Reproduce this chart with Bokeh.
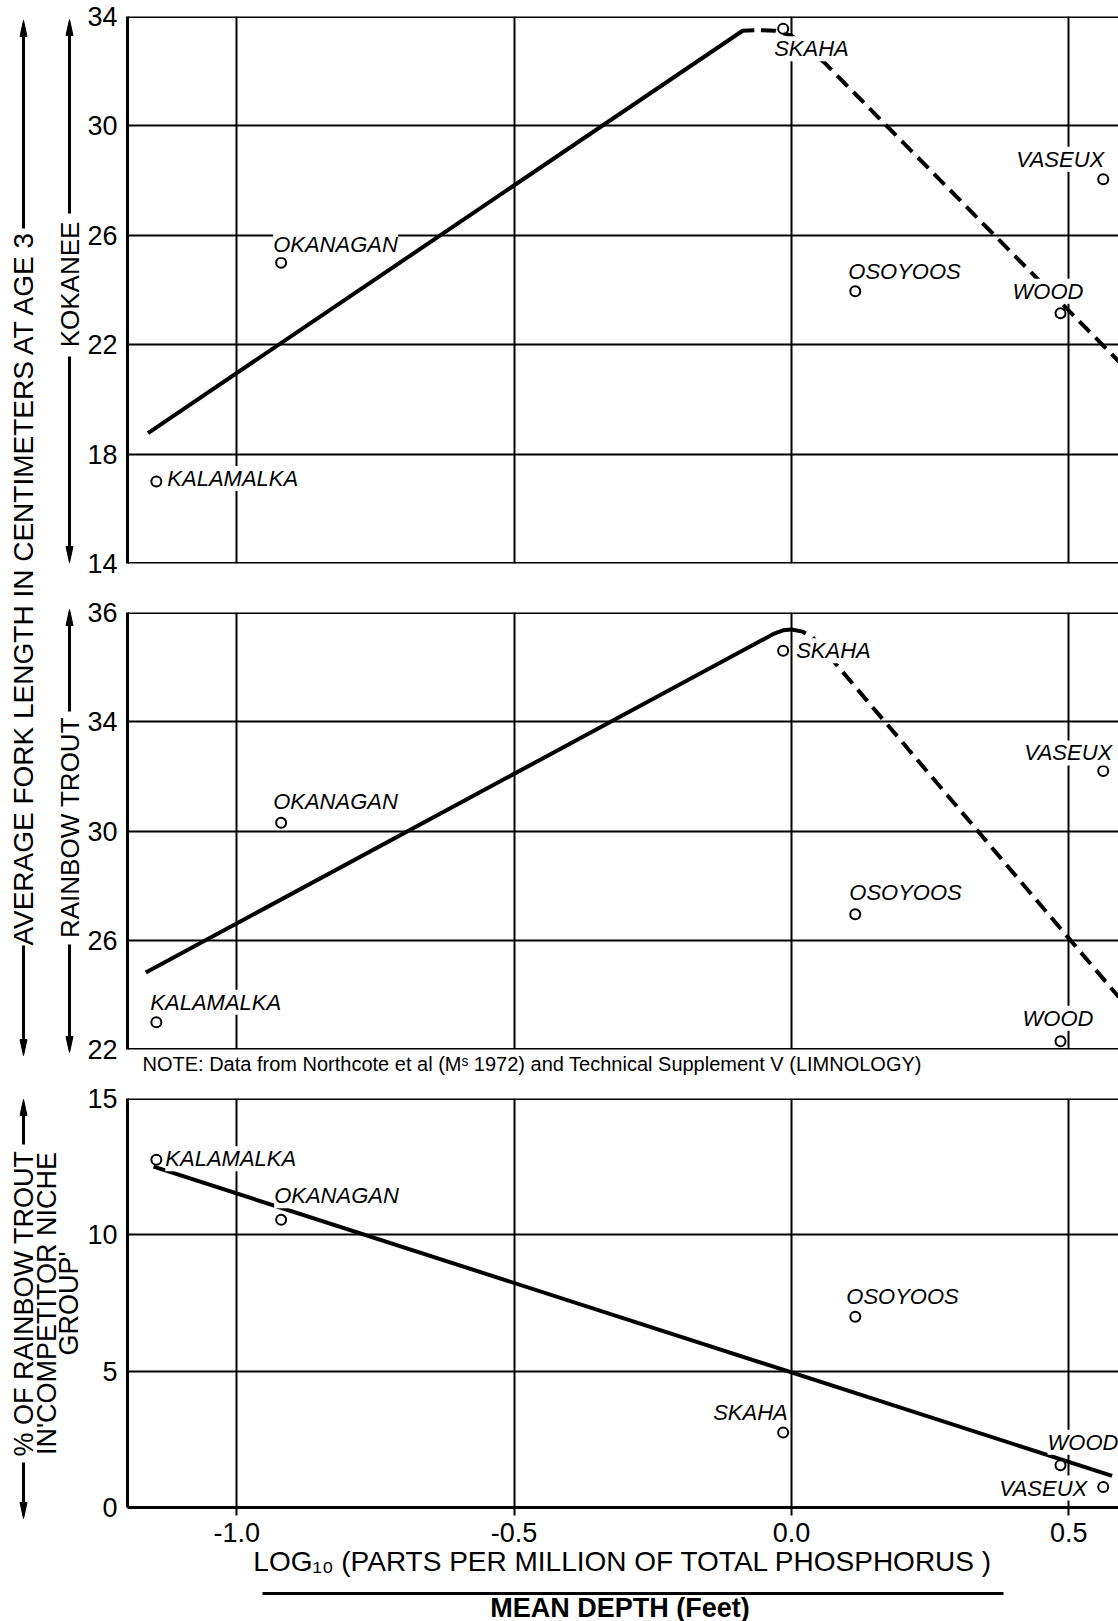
import math
from bokeh.plotting import figure
from bokeh.models import Range1d, FixedTicker, Span, Label, Grid, Title
from bokeh.layouts import row, column
from bokeh.embed import file_html
from bokeh.resources import INLINE
from bokeh.core.properties import value

# ---------------- data ----------------
lakes = ["KALAMALKA", "OKANAGAN", "SKAHA", "OSOYOOS", "WOOD", "VASEUX"]
log10_total_p = [-1.145, -0.92, -0.015, 0.115, 0.485, 0.562]
kokanee_length_cm = [17.0, 25.0, 33.55, 23.95, 23.15, 28.05]
rainbow_length_cm = [23.0, 30.3, 36.6, 26.95, 22.3, 32.2]
rainbow_pct_competitor = [12.75, 10.55, 2.75, 7.0, 1.55, 0.75]

kokanee_trend_x = [-1.16, -0.088, -0.067]
kokanee_trend_y = [18.77, 33.48, 33.50]
kokanee_extrap_x = [-0.055, -0.03, 0.0, 0.059, 0.592]
kokanee_extrap_y = [33.50, 33.48, 33.30, 32.32, 21.35]

rainbow_trend_x = [-1.164, -0.031, -0.015, 0.0]
rainbow_trend_y = [24.82, 37.23, 37.35, 37.38]
rainbow_extrap_x = [0.0, 0.02, 0.038, 0.082, 0.59]
rainbow_extrap_y = [37.38, 37.30, 37.10, 36.07, 23.92]

competitor_fit_x = [-1.15, 0.578]
competitor_fit_y = [12.5, 1.16]

x_ticks = [-1.0, -0.5, 0.0, 0.5]
x_tick_labels = ["-1.0", "-0.5", "0.0", "0.5"]
kokanee_ticks = [14, 18, 22, 26, 30, 34]
kokanee_tick_labels = ["14", "18", "22", "26", "30", "34"]
rainbow_ticks = [22, 26, 30, 34, 38]
rainbow_tick_labels = ["22", "26", "30", "34", "36"]
competitor_ticks = [0, 5, 10, 15]
competitor_tick_labels = ["0", "5", "10", "15"]

note_text = "NOTE: Data from Northcote et al (M\u02e2 1972) and Technical Supplement V (LIMNOLOGY)"

# ---------------- style / layout ----------------
FONT = "Liberation Sans"
TOTAL_H = 1621
W_DECO = 83
W_MAIN = 1035
BORDER_LEFT = 44
FRAME_LEFT = W_DECO + BORDER_LEFT
FRAME_RIGHT = W_DECO + W_MAIN
PX_PER_X = 554.7
X0 = -1.197
X1 = X0 + (W_MAIN - BORDER_LEFT) / PX_PER_X

kokanee_label_offsets = [(11, 3), (-8, 18), (-9, -20), (-7, 20), (-48, 22), (-87, 20)]
rainbow_label_offsets = [(-6, 20), (-8, 21), (13, 0), (-6, 22), (-38, 23), (-79, 18)]
competitor_label_offsets = [(9, 1), (-7, 24), (-70, 20), (-9, 20), (-13, 23), (-104, -1)]


def panel(height, b_top, b_bottom, y_start, y_end, yticks, ylabels, with_xaxis=False):
    p = figure(width=W_MAIN, height=height,
               x_range=Range1d(X0, X1), y_range=Range1d(y_start, y_end),
               output_backend="svg", toolbar_location=None, title=None,
               x_axis_location="below" if with_xaxis else None,
               y_axis_location="left",
               min_border_left=BORDER_LEFT, min_border_right=0,
               min_border_top=b_top, min_border_bottom=b_bottom)
    p.outline_line_color = None
    p.background_fill_color = "white"
    p.border_fill_color = "white"
    p.grid.visible = False
    p.add_layout(Grid(dimension=0, ticker=FixedTicker(ticks=x_ticks),
                      grid_line_color="black", grid_line_width=2))
    p.add_layout(Grid(dimension=1, ticker=FixedTicker(ticks=yticks),
                      grid_line_color="black", grid_line_width=2))
    ya = p.yaxis[0]
    ya.ticker = FixedTicker(ticks=yticks)
    ya.major_label_overrides = {t: l for t, l in zip(yticks, ylabels)}
    ya.axis_line_width = 3
    ya.axis_line_color = "black"
    ya.major_tick_out = 0
    ya.major_tick_in = 0
    ya.minor_tick_out = 0
    ya.minor_tick_in = 0
    ya.major_label_text_font = FONT
    ya.major_label_text_font_size = "27px"
    ya.major_label_text_color = "black"
    ya.major_label_standoff = 10
    p.add_layout(Span(location=y_end, dimension="width", line_color="black", line_width=3))
    if not with_xaxis:
        p.add_layout(Span(location=y_start, dimension="width", line_color="black", line_width=3))
    return p


def add_points(p, ys, offsets):
    p.scatter(log10_total_p, ys, marker="circle", size=10, line_color="black",
              line_width=2, fill_color="white")
    for name, x, y, (dx, dy) in zip(lakes, log10_total_p, ys, offsets):
        p.add_layout(Label(x=x, y=y, x_offset=dx, y_offset=dy, text=name,
                           text_font=FONT, text_font_style="italic",
                           text_font_size="22px", text_color="black",
                           text_align="left", text_baseline="middle",
                           background_fill_color="white"))


# ---- top panel: kokanee
f1 = panel(590, 16, 27, 14, 34, kokanee_ticks, kokanee_tick_labels)
f1.line(kokanee_trend_x, kokanee_trend_y, line_color="black", line_width=4)
f1.line(kokanee_extrap_x, kokanee_extrap_y, line_color="black", line_width=4,
        line_dash="15 8")
add_points(f1, kokanee_length_cm, kokanee_label_offsets)

# ---- middle panel: rainbow trout (with the source note underneath)
f2 = panel(490, 22, 31, 22, 38, rainbow_ticks, rainbow_tick_labels)
f2.line(rainbow_trend_x, rainbow_trend_y, line_color="black", line_width=4)
f2.line(rainbow_extrap_x, rainbow_extrap_y, line_color="black", line_width=4,
        line_dash="15 8")
add_points(f2, rainbow_length_cm, rainbow_label_offsets)
f2.add_layout(Title(text=note_text, align="left", offset=15, standoff=3,
                    text_font=FONT, text_font_size="20px", text_font_style="normal",
                    text_color="black"), "below")

# ---- bottom panel: % rainbow trout in competitor niche group
f3 = panel(507, 18, 80, 0, 15, competitor_ticks, competitor_tick_labels, with_xaxis=True)
xa = f3.xaxis[0]
xa.ticker = FixedTicker(ticks=x_ticks)
xa.major_label_overrides = {t: l for t, l in zip(x_ticks, x_tick_labels)}
xa.axis_line_width = 3
xa.axis_line_color = "black"
xa.major_tick_out = 8
xa.major_tick_in = 0
xa.major_tick_line_width = 2
xa.minor_tick_out = 0
xa.minor_tick_in = 0
xa.major_label_text_font = FONT
xa.major_label_text_font_size = "27px"
xa.major_label_text_color = "black"
xa.major_label_standoff = 7
xa.axis_label = "LOG\u2081\u2080 (PARTS PER MILLION OF TOTAL PHOSPHORUS )"
xa.axis_label_text_font = FONT
xa.axis_label_text_font_size = "28px"
xa.axis_label_text_font_style = "normal"
xa.axis_label_text_color = "black"
xa.axis_label_standoff = 1
f3.line(competitor_fit_x, competitor_fit_y, line_color="black", line_width=4)
add_points(f3, rainbow_pct_competitor, competitor_label_offsets)

# ---- strip under the x axis: divider and second axis title (page-pixel x)
f4 = figure(width=W_MAIN, height=34, x_range=Range1d(FRAME_LEFT, FRAME_RIGHT),
            y_range=Range1d(0, 34), output_backend="svg", toolbar_location=None,
            title=None, x_axis_location=None, y_axis_location=None,
            min_border=0, min_border_left=BORDER_LEFT, min_border_right=0,
            min_border_top=0, min_border_bottom=0)
f4.outline_line_color = None
f4.grid.visible = False
f4.segment(x0=[262], y0=[28], x1=[1003], y1=[28], line_color="black", line_width=3)
f4.text(x=[619.5], y=[14], text=["MEAN DEPTH (Feet)"], text_font=value(FONT),
        text_font_style="bold", text_font_size="27px", text_color="black",
        text_align="center", text_baseline="middle")

# ---- left decoration: vertical titles with arrows (page-pixel coordinates)
deco = figure(width=W_DECO, height=TOTAL_H, x_range=Range1d(0, W_DECO),
              y_range=Range1d(0, TOTAL_H), output_backend="svg",
              toolbar_location=None, title=None,
              x_axis_location=None, y_axis_location=None,
              min_border=0, min_border_left=0, min_border_right=0,
              min_border_top=0, min_border_bottom=0)
deco.outline_line_color = None
deco.grid.visible = False


def py(page_y):
    return TOTAL_H - page_y


def arrow_title(x, tip_top, shaft_top_end, shaft_bot_start, tip_bot):
    deco.segment(x0=[x, x], y0=[py(tip_top + 4), py(shaft_bot_start)],
                 x1=[x, x], y1=[py(shaft_top_end), py(tip_bot - 4)],
                 line_color="black", line_width=3)
    deco.patches(xs=[[x, x - 3.5, x + 3.5], [x, x - 3.5, x + 3.5]],
                 ys=[[py(tip_top), py(tip_top + 16), py(tip_top + 16)],
                     [py(tip_bot), py(tip_bot - 16), py(tip_bot - 16)]],
                 fill_color="black", line_color="black", line_width=1)


arrow_title(23, 20, 228, 945, 1055)
arrow_title(69, 19, 213, 356, 562)
arrow_title(69, 609, 711, 944, 1052)
arrow_title(23, 1099, 1144, 1462, 1518)

deco.text(x=[23], y=[py(587)], text=["AVERAGE FORK LENGTH IN CENTIMETERS AT AGE 3"],
          angle=math.pi / 2, text_font=value(FONT), text_font_size="28px",
          text_color="black", text_align="center", text_baseline="middle")
deco.text(x=[69, 69], y=[py(284), py(827)], text=["KOKANEE", "RAINBOW TROUT"],
          angle=math.pi / 2, text_font=value(FONT), text_font_size="26px",
          text_color="black", text_align="center", text_baseline="middle")
deco.text(x=[23, 46.5, 68], y=[py(1303), py(1303), py(1303)],
          text=["% OF RAINBOW TROUT", "IN'COMPETITOR NICHE", "GROUP'"],
          angle=math.pi / 2, text_font=value(FONT), text_font_size="27px",
          text_color="black", text_align="center", text_baseline="middle")

layout = row(deco, column(f1, f2, f3, f4))
open("out.html", "w").write(file_html(layout, INLINE))
